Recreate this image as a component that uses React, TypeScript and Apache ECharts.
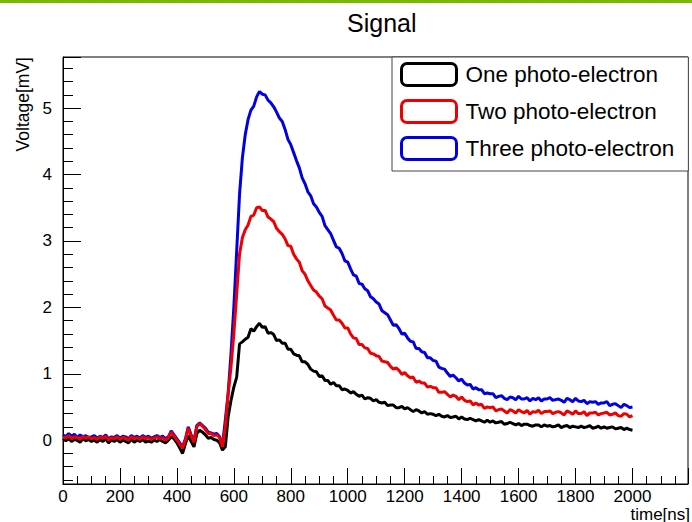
import React, { useEffect, useRef } from "react";
import * as echarts from "echarts";

const TIME_STEP_NS = 10;

const onePE = [
  0.02, -0.01, 0.03, -0.02, 0.01, 0.0, -0.03, 0.02, -0.01, 0.01,
  -0.02, 0.0, -0.03, 0.01, -0.02, 0.02, -0.04, 0.0, -0.02, 0.01,
  -0.03, 0.0, -0.02, -0.04, 0.01, -0.03, 0.0, -0.02, 0.01, -0.03,
  -0.01, -0.03, 0.0, -0.02, 0.01, -0.02, -0.04, 0.0, 0.05, 0.02,
  -0.04, -0.12, -0.2, -0.05, 0.07, -0.02, -0.1, 0.1, 0.15, 0.12,
  0.08, 0.03, 0.04, 0.01, 0.0, -0.04, -0.15, -0.1, 0.35, 0.6,
  0.8, 0.95, 1.45, 1.48, 1.52, 1.55, 1.68, 1.64, 1.71, 1.76,
  1.7, 1.71, 1.61, 1.62, 1.59, 1.5, 1.51, 1.46, 1.46, 1.37,
  1.37, 1.3, 1.28, 1.27, 1.18, 1.18, 1.14, 1.07, 1.04, 1.03,
  0.96, 0.97, 0.9, 0.9, 0.84, 0.87, 0.82, 0.82, 0.76, 0.77,
  0.75, 0.71, 0.73, 0.69, 0.66, 0.68, 0.62, 0.64, 0.63, 0.59,
  0.61, 0.57, 0.56, 0.57, 0.52, 0.53, 0.53, 0.49, 0.49, 0.51,
  0.47, 0.49, 0.46, 0.43, 0.46, 0.44, 0.41, 0.43, 0.39, 0.4,
  0.39, 0.37, 0.39, 0.36, 0.35, 0.37, 0.34, 0.35, 0.36, 0.32,
  0.35, 0.32, 0.31, 0.33, 0.31, 0.29, 0.31, 0.29, 0.27, 0.3,
  0.27, 0.29, 0.26, 0.27, 0.28, 0.24, 0.25, 0.27, 0.25, 0.23,
  0.25, 0.22, 0.24, 0.24, 0.22, 0.21, 0.23, 0.23, 0.2, 0.23,
  0.21, 0.22, 0.2, 0.21, 0.23, 0.19, 0.21, 0.22, 0.19, 0.21,
  0.2, 0.19, 0.21, 0.19, 0.2, 0.22, 0.18, 0.19, 0.21, 0.18,
  0.2, 0.18, 0.19, 0.2, 0.17, 0.18, 0.19, 0.16, 0.18, 0.16,
  0.15,
];

const twoPE = [
  0.05, 0.03, 0.07, 0.02, 0.05, 0.04, 0.01, 0.06, 0.03, 0.05,
  0.02, 0.04, 0.01, 0.05, 0.03, 0.06, 0.0, 0.04, 0.02, 0.05,
  0.01, 0.04, 0.03, 0.0, 0.05, 0.02, 0.04, 0.01, 0.05, 0.02,
  0.04, 0.01, 0.03, 0.05, 0.02, 0.04, 0.0, 0.03, 0.12, 0.06,
  0.0, -0.06, -0.12, 0.0, 0.18, 0.06, -0.03, 0.2, 0.25, 0.21,
  0.16, 0.1, 0.1, 0.07, 0.08, 0.04, -0.1, 0.2, 0.7, 1.1,
  1.6, 2.2, 2.8, 3.05, 3.17, 3.24, 3.37, 3.39, 3.5, 3.51,
  3.46, 3.46, 3.36, 3.33, 3.29, 3.19, 3.14, 3.1, 3.03, 2.93,
  2.92, 2.8, 2.73, 2.68, 2.55, 2.5, 2.4, 2.33, 2.26, 2.23,
  2.17, 2.13, 2.02, 1.99, 1.96, 1.88, 1.81, 1.81, 1.76, 1.69,
  1.69, 1.6, 1.54, 1.53, 1.44, 1.44, 1.39, 1.38, 1.31, 1.3,
  1.27, 1.26, 1.19, 1.18, 1.17, 1.11, 1.07, 1.09, 1.05, 0.99,
  1.02, 0.97, 0.94, 0.95, 0.87, 0.89, 0.86, 0.86, 0.8, 0.81,
  0.79, 0.79, 0.72, 0.72, 0.73, 0.69, 0.65, 0.68, 0.66, 0.61,
  0.65, 0.6, 0.58, 0.59, 0.53, 0.56, 0.53, 0.54, 0.48, 0.5,
  0.49, 0.5, 0.44, 0.46, 0.47, 0.44, 0.41, 0.46, 0.44, 0.41,
  0.46, 0.43, 0.41, 0.45, 0.39, 0.43, 0.42, 0.45, 0.4, 0.43,
  0.43, 0.44, 0.4, 0.42, 0.43, 0.41, 0.38, 0.44, 0.42, 0.39,
  0.44, 0.4, 0.4, 0.43, 0.37, 0.41, 0.41, 0.42, 0.38, 0.4,
  0.41, 0.42, 0.38, 0.39, 0.41, 0.37, 0.36, 0.4, 0.39, 0.35,
  0.37,
];

const threePE = [
  0.08, 0.05, 0.1, 0.06, 0.09, 0.04, 0.08, 0.05, 0.07, 0.03,
  0.05, 0.07, 0.03, 0.06, 0.04, 0.08, 0.02, 0.05, 0.04, 0.07,
  0.03, 0.06, 0.05, 0.02, 0.07, 0.04, 0.06, 0.03, 0.07, 0.04,
  0.06, 0.03, 0.05, 0.07, 0.04, 0.06, 0.02, 0.05, 0.14, 0.08,
  0.02, -0.04, -0.1, 0.02, 0.2, 0.08, -0.01, 0.22, 0.26, 0.22,
  0.18, 0.12, 0.11, 0.09, 0.1, 0.05, -0.08, 0.3, 0.7, 1.3,
  2.0, 2.85, 3.7, 4.25, 4.6, 4.83, 4.97, 5.03, 5.17, 5.25,
  5.21, 5.2, 5.12, 5.08, 5.02, 4.94, 4.85, 4.8, 4.68, 4.53,
  4.45, 4.33, 4.21, 4.1, 3.95, 3.86, 3.74, 3.68, 3.56, 3.51,
  3.43, 3.37, 3.23, 3.17, 3.11, 3.01, 2.91, 2.89, 2.81, 2.7,
  2.68, 2.58, 2.49, 2.47, 2.36, 2.35, 2.28, 2.25, 2.16, 2.13,
  2.08, 2.05, 1.95, 1.92, 1.89, 1.81, 1.73, 1.74, 1.68, 1.6,
  1.61, 1.54, 1.49, 1.48, 1.38, 1.38, 1.33, 1.32, 1.24, 1.24,
  1.2, 1.19, 1.1, 1.08, 1.07, 1.01, 0.96, 0.98, 0.94, 0.89,
  0.92, 0.86, 0.83, 0.84, 0.77, 0.79, 0.76, 0.76, 0.7, 0.71,
  0.7, 0.7, 0.64, 0.66, 0.67, 0.63, 0.61, 0.65, 0.64, 0.61,
  0.66, 0.62, 0.62, 0.64, 0.59, 0.63, 0.61, 0.64, 0.59, 0.62,
  0.62, 0.64, 0.6, 0.61, 0.62, 0.6, 0.57, 0.63, 0.61, 0.58,
  0.63, 0.59, 0.58, 0.6, 0.55, 0.58, 0.57, 0.58, 0.54, 0.56,
  0.56, 0.58, 0.52, 0.54, 0.55, 0.52, 0.49, 0.54, 0.52, 0.49,
  0.5,
];

const seriesNames = ["One photo-electron", "Two photo-electron", "Three photo-electron"];
const seriesColors = ["#000000", "#ee0000", "#0000e0"];

const toPairs = (vals: number[]) => vals.map((v, i) => [i * TIME_STEP_NS, v]);

const FONT = "Liberation Sans, Arial, Helvetica, sans-serif";

export default function App() {
  const ref = useRef<HTMLDivElement>(null);
  useEffect(() => {
    if (!ref.current) return;
    const chart = echarts.init(ref.current, undefined, { renderer: "svg" });
    const dataSets = [onePE, twoPE, threePE];
    const drawOrder = [0, 2, 1];
    chart.setOption({
      animation: false,
      backgroundColor: "#ffffff",
      title: {
        text: "Signal",
        left: 342,
        top: 5,
        textStyle: { fontFamily: FONT, fontSize: 25, fontWeight: "normal", color: "#000" },
      },
      legend: {
        orient: "vertical",
        left: 392,
        top: 57,
        backgroundColor: "#ffffff",
        borderColor: "#444",
        borderWidth: 1,
        borderRadius: 0,
        padding: [5, 14, 10, 8],
        itemWidth: 55,
        itemHeight: 22,
        itemGap: 12,
        icon: "roundRect",
        textStyle: {
          fontFamily: FONT,
          fontSize: 22.5,
          lineHeight: 22,
          color: "#000",
          padding: [0, 0, 0, 4],
        },
        data: seriesNames.map((n, i) => ({
          name: n,
          itemStyle: { color: "#ffffff", borderColor: seriesColors[i], borderWidth: 3 },
        })),
      },
      grid: {
        left: 63,
        right: 4,
        top: 57,
        bottom: 38,
        show: true,
        borderColor: "#000",
        borderWidth: 1,
        backgroundColor: "transparent",
      },
      xAxis: {
        type: "value",
        min: 0,
        max: 2195,
        splitNumber: 11,
        axisLine: { show: true, onZero: false, lineStyle: { color: "#000", width: 1 } },
        axisTick: { show: true, inside: true, length: 16, lineStyle: { color: "#000" } },
        minorTick: { show: true, splitNumber: 4, length: 8, lineStyle: { color: "#000" } },
        splitLine: { show: false },
        axisLabel: {
          showMaxLabel: false,
          margin: 4,
          color: "#000",
          fontFamily: FONT,
          fontSize: 17,
          formatter: (v: number) => String(v),
        },
      },
      yAxis: {
        type: "value",
        min: -0.66,
        max: 5.77,
        splitNumber: 6,
        axisLine: { show: true, onZero: false, lineStyle: { color: "#000", width: 1 } },
        axisTick: { show: true, inside: true, length: 18, lineStyle: { color: "#000" } },
        minorTick: { show: true, splitNumber: 5, length: 10, lineStyle: { color: "#000" } },
        splitLine: { show: false },
        axisLabel: {
          showMinLabel: false,
          showMaxLabel: false,
          margin: 11,
          color: "#000",
          fontFamily: FONT,
          fontSize: 17,
          formatter: (v: number) => String(v),
        },
      },
      graphic: [
        { type: "rect", shape: { x: 0, y: 0, width: 692, height: 3 }, style: { fill: "#7cb800" } },
        {
          type: "text",
          x: 23,
          y: 57,
          rotation: Math.PI / 2,
          style: {
            text: "Voltage[mV]",
            fontFamily: FONT,
            fontSize: 17.5,
            fill: "#000",
            align: "right",
            verticalAlign: "middle",
          },
        },
        {
          type: "text",
          x: 690,
          y: 514,
          style: {
            text: "time[ns]",
            fontFamily: FONT,
            fontSize: 17,
            fill: "#000",
            align: "right",
            verticalAlign: "middle",
          },
        },
      ],
      series: drawOrder.map((i) => ({
        name: seriesNames[i],
        type: "line",
        data: toPairs(dataSets[i]),
        showSymbol: false,
        symbol: "none",
        lineStyle: { color: seriesColors[i], width: 3 },
        itemStyle: { color: seriesColors[i] },
        z: 2,
      })),
    });
    return () => chart.dispose();
  }, []);
  return (
    <div
      ref={ref}
      style={{ position: "absolute", left: 0, top: 0, width: 692, height: 522 }}
    />
  );
}
